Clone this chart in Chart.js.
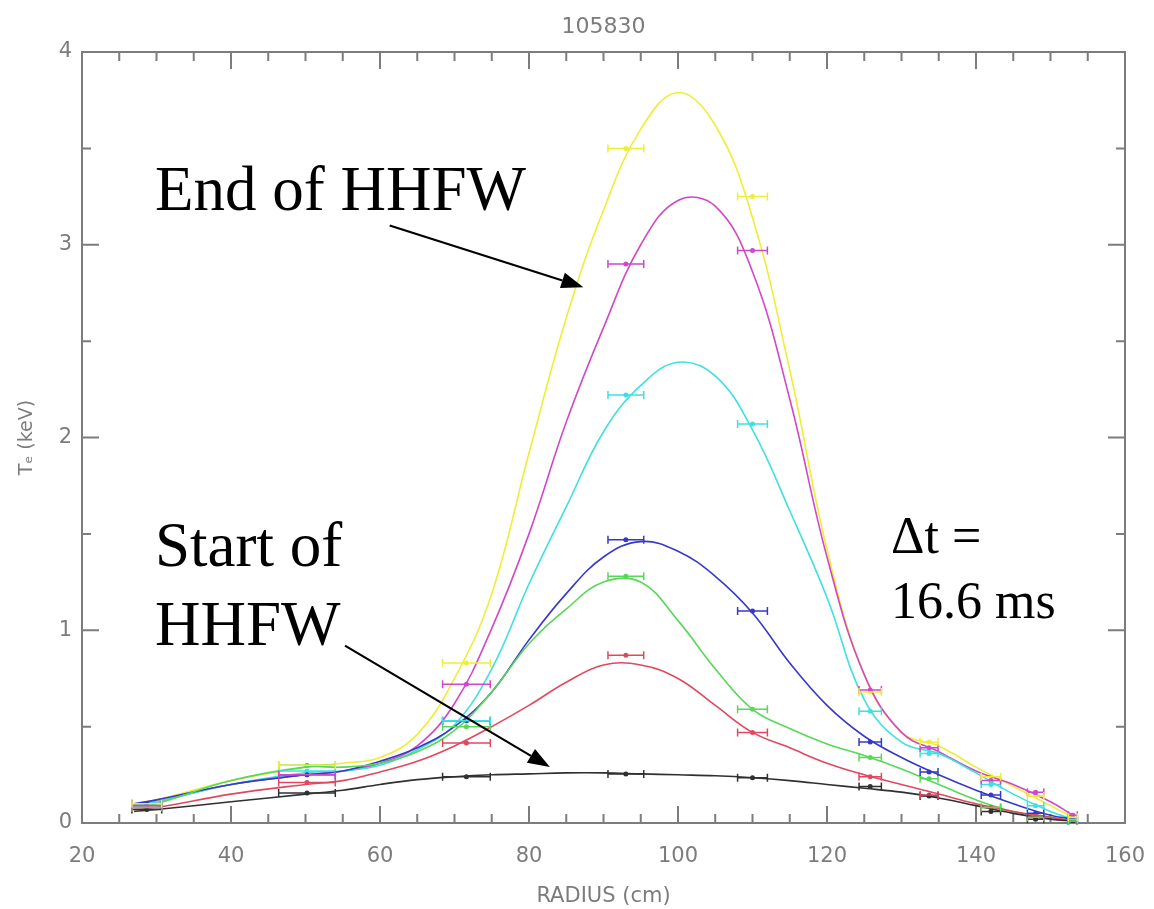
<!DOCTYPE html>
<html>
<head>
<meta charset="utf-8">
<script src="https://cdn.jsdelivr.net/npm/chart.js@4.4.1/dist/chart.umd.min.js"></script>
<style>
  html, body { margin: 0; background: #fff; }
  canvas { display: block; }
</style>
</head>
<body>
<canvas id="te" width="1154" height="909"></canvas>
<script>
// Thomson scattering channels: radius (cm) and half-width of each channel
const radius    = [28.7, 50.2, 71.6, 93.0, 110.0, 125.8, 133.7, 142.0, 148.0, 153.0];
const radiusErr = [2.0, 3.8, 3.2, 2.4, 2.0, 1.5, 1.2, 1.3, 1.1, 0.6];

// measured Te (keV), one array per time slice
const teBlack   = [0.07, 0.155, 0.24, 0.254, 0.235, 0.19, 0.14, 0.06, 0.02, 0.01];
const teRed     = [0.08, 0.21, 0.415, 0.87, 0.47, 0.24, 0.145, 0.08, 0.03, 0.01];
const teGreen   = [0.08, 0.30, 0.50, 1.28, 0.59, 0.34, 0.23, 0.08, 0.03, 0.01];
const teBlue    = [0.10, 0.25, 0.53, 1.47, 1.10, 0.42, 0.265, 0.145, 0.05, 0.02];
const teCyan    = [0.09, 0.27, 0.53, 2.22, 2.07, 0.58, 0.36, 0.20, 0.09, 0.02];
const teMagenta = [0.09, 0.25, 0.72, 2.90, 2.97, 0.69, 0.39, 0.22, 0.16, 0.04];
const teYellow  = [0.10, 0.30, 0.83, 3.50, 3.25, 0.68, 0.42, 0.24, 0.14, 0.03];

// fitted profiles sampled along the radius
const fitRadius  = [27, 30, 40, 50, 55, 60, 65, 70, 75, 80, 85, 90, 95, 100, 105, 110, 115, 120, 125, 130, 135, 140, 145, 150, 153];
const fitBlack   = [0.06, 0.07, 0.11, 0.15, 0.17, 0.20, 0.225, 0.24, 0.25, 0.255, 0.26, 0.26, 0.255, 0.25, 0.245, 0.235, 0.22, 0.20, 0.18, 0.16, 0.13, 0.09, 0.05, 0.02, 0.01];
const fitRed     = [0.07, 0.08, 0.15, 0.20, 0.22, 0.265, 0.32, 0.40, 0.50, 0.61, 0.73, 0.82, 0.82, 0.75, 0.61, 0.47, 0.39, 0.31, 0.25, 0.20, 0.15, 0.10, 0.06, 0.03, 0.01];
const fitGreen   = [0.08, 0.10, 0.22, 0.29, 0.29, 0.31, 0.37, 0.48, 0.68, 0.93, 1.11, 1.25, 1.25, 1.05, 0.80, 0.59, 0.49, 0.41, 0.35, 0.28, 0.20, 0.12, 0.06, 0.03, 0.01];
const fitBlue    = [0.10, 0.12, 0.20, 0.25, 0.27, 0.32, 0.39, 0.50, 0.68, 0.95, 1.19, 1.38, 1.46, 1.41, 1.28, 1.09, 0.83, 0.61, 0.45, 0.34, 0.25, 0.17, 0.10, 0.04, 0.02];
const fitCyan    = [0.09, 0.11, 0.20, 0.26, 0.27, 0.30, 0.38, 0.51, 0.80, 1.24, 1.64, 2.03, 2.27, 2.39, 2.32, 2.04, 1.62, 1.17, 0.64, 0.42, 0.36, 0.26, 0.15, 0.06, 0.02];
const fitMagenta = [0.09, 0.11, 0.20, 0.25, 0.27, 0.31, 0.40, 0.62, 1.01, 1.50, 2.08, 2.57, 3.00, 3.23, 3.20, 2.86, 2.20, 1.38, 0.77, 0.47, 0.37, 0.27, 0.20, 0.11, 0.04];
const fitYellow  = [0.10, 0.12, 0.22, 0.29, 0.31, 0.34, 0.46, 0.75, 1.19, 1.92, 2.62, 3.18, 3.60, 3.79, 3.62, 3.14, 2.35, 1.42, 0.77, 0.47, 0.40, 0.29, 0.19, 0.09, 0.03];

const slices = [
  { color: '#303030', te: teBlack,   fit: fitBlack },
  { color: '#e04860', te: teRed,     fit: fitRed },
  { color: '#58d858', te: teGreen,   fit: fitGreen },
  { color: '#3838c8', te: teBlue,    fit: fitBlue },
  { color: '#3ee0e0', te: teCyan,    fit: fitCyan },
  { color: '#d048c8', te: teMagenta, fit: fitMagenta },
  { color: '#eeee36', te: teYellow,  fit: fitYellow }
];

const datasets = [];
slices.forEach(s => {
  datasets.push({
    type: 'line',
    data: fitRadius.map((r, i) => ({ x: r, y: s.fit[i] })),
    borderColor: s.color,
    borderWidth: 1.6,
    pointRadius: 0,
    tension: 0.4,
    fill: false
  });
  datasets.push({
    type: 'scatter',
    data: radius.map((r, i) => ({ x: r, y: s.te[i] })),
    xErr: radiusErr,
    borderColor: s.color,
    backgroundColor: s.color,
    pointRadius: 2.5,
    pointBorderWidth: 0
  });
});

const axisGray = '#7c7c7c';
const labelFont = { family: '"DejaVu Sans", sans-serif', size: 21 };

// horizontal error bars with end caps
const errorBars = {
  id: 'errorBars',
  afterDatasetsDraw(chart) {
    const { ctx, scales: { x, y } } = chart;
    chart.data.datasets.forEach(ds => {
      if (!ds.xErr) return;
      ctx.save();
      ctx.strokeStyle = ds.borderColor;
      ctx.lineWidth = 1.5;
      ds.data.forEach((p, j) => {
        const x1 = x.getPixelForValue(p.x - ds.xErr[j]);
        const x2 = x.getPixelForValue(p.x + ds.xErr[j]);
        const py = y.getPixelForValue(p.y);
        ctx.beginPath();
        ctx.moveTo(x1, py); ctx.lineTo(x2, py);
        ctx.moveTo(x1, py - 4); ctx.lineTo(x1, py + 4);
        ctx.moveTo(x2, py - 4); ctx.lineTo(x2, py + 4);
        ctx.stroke();
      });
      ctx.restore();
    });
  }
};

// box around the plot with inward ticks on every side
const frame = {
  id: 'frame',
  beforeDatasetsDraw(chart) {
    const { ctx, chartArea: a, scales: { x, y } } = chart;
    ctx.save();
    ctx.strokeStyle = axisGray;
    ctx.lineWidth = 2;
    ctx.strokeRect(a.left, a.top, a.right - a.left, a.bottom - a.top);
    ctx.beginPath();
    x.ticks.forEach(t => {
      const px = x.getPixelForValue(t.value);
      const len = t.value % 20 === 0 ? 17 : 9;
      ctx.moveTo(px, a.bottom); ctx.lineTo(px, a.bottom - len);
      ctx.moveTo(px, a.top); ctx.lineTo(px, a.top + len);
    });
    y.ticks.forEach(t => {
      const py = y.getPixelForValue(t.value);
      const len = Number.isInteger(t.value) ? 17 : 9;
      ctx.moveTo(a.left, py); ctx.lineTo(a.left + len, py);
      ctx.moveTo(a.right, py); ctx.lineTo(a.right - len, py);
    });
    ctx.stroke();
    ctx.restore();
  }
};

// text notes and arrows, placed in data units
const notes = [
  { lines: ['End of HHFW'], x: 29.8, y: 3.18, size: 63, gap: 0 },
  { lines: ['Start of', 'HHFW'], x: 29.8, y: 1.333, size: 63, gap: 0.41 },
  { lines: ['\u0394t =', '16.6 ms'], x: 128.6, y: 1.40, size: 52, gap: 0.337 }
];
const arrows = [
  { from: [61.3, 3.10], to: [87.3, 2.78] },
  { from: [55.3, 0.92], to: [82.8, 0.29] }
];

const annotations = {
  id: 'annotations',
  afterDraw(chart) {
    const { ctx, scales: { x, y } } = chart;
    ctx.save();
    ctx.fillStyle = '#000';
    ctx.textBaseline = 'alphabetic';
    ctx.textAlign = 'left';
    notes.forEach(n => {
      ctx.font = n.size + 'px "Liberation Serif", "Times New Roman", serif';
      n.lines.forEach((s, i) => {
        ctx.fillText(s, x.getPixelForValue(n.x), y.getPixelForValue(n.y - i * n.gap));
      });
    });
    ctx.strokeStyle = '#000';
    ctx.lineWidth = 2.2;
    arrows.forEach(ar => {
      const x0 = x.getPixelForValue(ar.from[0]), y0 = y.getPixelForValue(ar.from[1]);
      const x1 = x.getPixelForValue(ar.to[0]),   y1 = y.getPixelForValue(ar.to[1]);
      const ang = Math.atan2(y1 - y0, x1 - x0);
      const head = 22, half = 8;
      const bx = x1 - head * Math.cos(ang), by = y1 - head * Math.sin(ang);
      ctx.beginPath();
      ctx.moveTo(x0, y0); ctx.lineTo(bx, by);
      ctx.stroke();
      ctx.beginPath();
      ctx.moveTo(x1, y1);
      ctx.lineTo(bx + half * Math.sin(ang), by - half * Math.cos(ang));
      ctx.lineTo(bx - half * Math.sin(ang), by + half * Math.cos(ang));
      ctx.closePath();
      ctx.fill();
    });
    ctx.restore();
  }
};

new Chart(document.getElementById('te'), {
  data: { datasets },
  options: {
    responsive: false,
    animation: false,
    layout: { padding: { top: 0, right: 29, bottom: 0, left: 0 } },
    plugins: {
      legend: { display: false },
      tooltip: { enabled: false },
      title: {
        display: true,
        fullSize: false,
        text: '105830',
        color: axisGray,
        font: { family: '"DejaVu Sans", sans-serif', size: 22, weight: 'normal' },
        padding: { top: 14, bottom: 11.6 }
      }
    },
    scales: {
      x: {
        type: 'linear',
        min: 20, max: 160,
        grid: { display: false, drawTicks: false },
        border: { display: false },
        ticks: {
          stepSize: 5,
          autoSkip: false,
          maxRotation: 0,
          padding: 21,
          color: axisGray,
          font: labelFont,
          callback: v => (v % 20 === 0 ? v : '')
        },
        title: {
          display: true,
          text: 'RADIUS (cm)',
          color: axisGray,
          font: labelFont,
          padding: { top: 0, bottom: 0 }
        },
        afterFit: s => { s.height = 86; s.paddingLeft = 0; s.paddingRight = 0; }
      },
      y: {
        type: 'linear',
        min: 0, max: 4,
        grid: { display: false, drawTicks: false },
        border: { display: false },
        ticks: {
          stepSize: 0.5,
          autoSkip: false,
          padding: 10,
          color: axisGray,
          font: labelFont,
          callback: v => (Number.isInteger(v) ? v : '')
        },
        title: {
          display: true,
          text: 'T\u2091 (keV)',
          color: axisGray,
          font: { family: '"DejaVu Sans", sans-serif', size: 19 },
          padding: { top: 16, bottom: 0 }
        },
        afterFit: s => { s.width = 82; }
      }
    }
  },
  plugins: [frame, errorBars, annotations]
});
</script>
</body>
</html>
